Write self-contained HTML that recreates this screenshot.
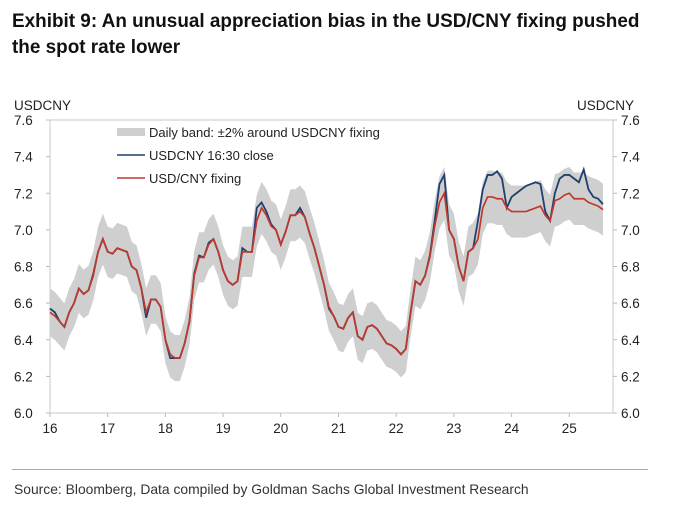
<!DOCTYPE html>
<html><head><meta charset="utf-8"><style>
body{margin:0;background:#fff;width:676px;height:514px;overflow:hidden;font-family:"Liberation Sans",Arial,sans-serif;}
#title{position:absolute;left:12px;top:8px;font-size:19.5px;font-weight:bold;color:#111;line-height:26px;transform:scaleX(0.97);transform-origin:0 0;white-space:nowrap;}
#rule{position:absolute;left:12px;top:469px;width:636px;height:1px;background:#aaa;}
#src{position:absolute;left:14px;top:481px;font-size:14px;color:#333;transform:scaleX(0.99);transform-origin:0 0;white-space:nowrap;}
svg{position:absolute;left:0;top:0;}
</style></head><body>
<div id="title">Exhibit 9: An unusual appreciation bias in the USD/CNY fixing pushed<br>the spot rate lower</div>
<svg id="chart" width="676" height="514"></svg>
<div id="rule"></div>
<div id="src">Source: Bloomberg, Data compiled by Goldman Sachs Global Investment Research</div>
<script>
const yearTicks=["16","17","18","19","20","21","22","23","24","25"];
const yTicks=[6.0,6.2,6.4,6.6,6.8,7.0,7.2,7.4,7.6];
const fixing=[6.55,6.53,6.50,6.47,6.55,6.60,6.68,6.65,6.67,6.75,6.88,6.95,
6.88,6.87,6.90,6.89,6.88,6.80,6.78,6.68,6.55,6.62,6.62,6.58,
6.40,6.32,6.30,6.30,6.38,6.50,6.75,6.85,6.85,6.92,6.95,6.88,
6.78,6.72,6.70,6.72,6.88,6.88,6.88,7.05,7.12,7.08,7.02,7.00,
6.92,6.99,7.08,7.08,7.10,7.07,6.98,6.90,6.80,6.70,6.58,6.53,
6.47,6.46,6.52,6.55,6.42,6.40,6.47,6.48,6.46,6.42,6.38,6.37,
6.35,6.32,6.35,6.55,6.72,6.70,6.75,6.85,7.02,7.15,7.20,7.00,
6.95,6.80,6.72,6.88,6.90,6.95,7.12,7.18,7.18,7.17,7.17,7.12,
7.10,7.10,7.10,7.10,7.11,7.12,7.13,7.08,7.05,7.16,7.17,7.19,
7.20,7.17,7.17,7.17,7.15,7.14,7.13,7.11];
const spot=[6.57,6.55,6.50,6.47,6.55,6.60,6.68,6.65,6.67,6.76,6.88,6.95,
6.88,6.87,6.90,6.89,6.88,6.80,6.78,6.68,6.52,6.62,6.62,6.58,
6.40,6.30,6.30,6.30,6.38,6.50,6.76,6.86,6.85,6.93,6.95,6.88,
6.78,6.72,6.70,6.72,6.90,6.88,6.88,7.12,7.15,7.10,7.03,7.00,
6.92,6.99,7.08,7.08,7.12,7.07,6.98,6.90,6.80,6.70,6.57,6.53,
6.47,6.46,6.52,6.55,6.42,6.40,6.47,6.48,6.46,6.42,6.38,6.37,
6.35,6.32,6.35,6.55,6.72,6.70,6.75,6.86,7.05,7.25,7.30,7.00,
6.95,6.80,6.72,6.88,6.90,7.05,7.22,7.30,7.30,7.32,7.28,7.12,
7.18,7.20,7.22,7.24,7.25,7.26,7.25,7.10,7.05,7.20,7.28,7.30,
7.30,7.28,7.26,7.33,7.22,7.18,7.17,7.14];
const NS="http://www.w3.org/2000/svg";
const svg=document.getElementById('chart');
const X0=50,YEAR=57.7,PT=120,PB=413,PL=50,PR=613;
const xs=y=>X0+YEAR*(y-16);
const ys=v=>PB-(v-6.0)/1.6*(PB-PT);
const tIdx=i=>16+i/12;
function mk(t,a){const e=document.createElementNS(NS,t);for(const k in a)e.setAttribute(k,a[k]);svg.appendChild(e);return e;}
let e;
e=mk('rect',{x:PL,y:PT,width:PR-PL,height:PB-PT,fill:'none',stroke:'#c8c8c8','stroke-width':1});

yTicks.forEach(v=>{
 const y=ys(v);
 mk('line',{x1:PL-4,x2:PL,y1:y,y2:y,stroke:'#bbb'});mk('line',{x1:PR,x2:PR+4,y1:y,y2:y,stroke:'#bbb'});
 e=mk('text',{x:14,y:y+5,'font-size':13.5,fill:'#222'});e.textContent=v.toFixed(1);
 
 e=mk('text',{x:621,y:y+5,'font-size':13.5,fill:'#222'});e.textContent=v.toFixed(1);
 
});
yearTicks.forEach(t=>{
 const x=xs(+t);
 mk('line',{x1:x,x2:x,y1:PB,y2:PB+4,stroke:'#bbb'});
 e=mk('text',{x:x,y:PB+20,'font-size':13.5,fill:'#222','text-anchor':'middle'});e.textContent=t;
 
});
e=mk('text',{x:14,y:110,'font-size':13.5,fill:'#222'});e.textContent='USDCNY';

e=mk('text',{x:577,y:110,'font-size':13.5,fill:'#222'});e.textContent='USDCNY';

let up=fixing.map((v,i)=>xs(tIdx(i))+','+ys(v*1.02));
let dn=fixing.map((v,i)=>xs(tIdx(i))+','+ys(v*0.98)).reverse();
e=mk('polygon',{points:up.concat(dn).join(' '),fill:'#cfcfcf'});

e=mk('polyline',{points:spot.map((v,i)=>xs(tIdx(i))+','+ys(v)).join(' '),fill:'none',stroke:'#1f3f6e','stroke-width':1.8});

e=mk('polyline',{points:fixing.map((v,i)=>xs(tIdx(i))+','+ys(v)).join(' '),fill:'none',stroke:'#c0392b','stroke-width':1.7});

e=mk('rect',{x:117,y:128,width:28,height:8,fill:'#cfcfcf'});
e=mk('line',{x1:117,x2:145,y1:155,y2:155,stroke:'#1f3f6e','stroke-width':1.5});
e=mk('line',{x1:117,x2:145,y1:178,y2:178,stroke:'#c0392b','stroke-width':1.5});
[['Daily band: ±2% around USDCNY fixing',137],['USDCNY 16:30 close',160],['USD/CNY fixing',183]].forEach(a=>{
 e=mk('text',{x:149,y:a[1],'font-size':13,fill:'#222'});e.textContent=a[0];
 
});
</script>
</body></html>
